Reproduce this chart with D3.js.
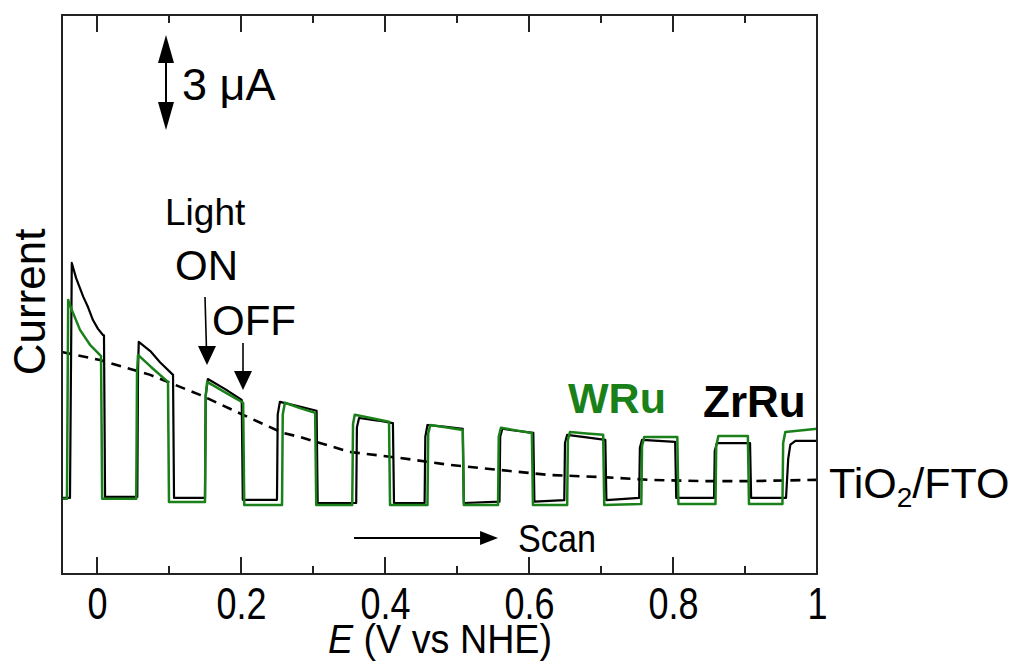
<!DOCTYPE html>
<html>
<head>
<meta charset="utf-8">
<script src="https://cdn.jsdelivr.net/npm/d3@7"></script>
<style>
  body { margin: 0; background: #fff; }
  svg text { font-family: "Liberation Sans", Arial, sans-serif; }
</style>
</head>
<body>
<svg id="chart" width="1027" height="661"></svg>
<script>
/*** DATA (E in V vs NHE, current in uA, offset arbitrary) ***/

var zr_ru = [
  [-0.049, -0.03], [-0.0375, -0.03], [-0.035, 7.38], [-0.029, 6.9], [-0.019, 6.31], [-0.0125, 5.99],
  [-0.0056, 5.58], [0.0014, 5.3], [0.0083, 5.11], [0.0097, 5.1], [0.0112, 0.0],
  [0.056, 0.0], [0.057, 4.0], [0.058, 4.89], [0.074, 4.6], [0.0875, 4.25], [0.1056, 3.85], [0.107, -0.03],
  [0.150, -0.03], [0.151, 3.2], [0.154, 3.72], [0.178, 3.4], [0.201, 3.06], [0.2025, -0.09],
  [0.250, -0.09], [0.251, 2.6], [0.254, 3.0], [0.280, 2.86], [0.305, 2.72], [0.3065, -0.19],
  [0.360, -0.19], [0.361, 2.2], [0.364, 2.49], [0.390, 2.41], [0.411, 2.33], [0.4125, -0.19],
  [0.455, -0.19], [0.456, 1.9], [0.459, 2.27], [0.485, 2.21], [0.508, 2.15], [0.5095, -0.19],
  [0.559, -0.15], [0.560, 1.9], [0.563, 2.15], [0.585, 2.08], [0.606, 2.02], [0.6075, -0.15],
  [0.649, -0.10], [0.650, 1.7], [0.653, 1.96], [0.680, 1.88], [0.706, 1.80], [0.7075, -0.10],
  [0.753, -0.03], [0.754, 1.55], [0.757, 1.80], [0.780, 1.77], [0.803, 1.74], [0.8045, -0.03],
  [0.857, -0.03], [0.858, 1.45], [0.861, 1.70], [0.885, 1.70], [0.907, 1.70], [0.9085, -0.03],
  [0.957, -0.03], [0.960, 1.2], [0.963, 1.65], [0.970, 1.77], [1.0, 1.77]
];

var w_ru = [
  [-0.049, -0.06], [-0.0417, -0.06], [-0.040, 6.21], [-0.035, 5.9], [-0.0236, 5.27], [-0.0097, 4.8],
  [0.004, 4.48], [0.0056, 4.45], [0.0072, -0.06],
  [0.0545, -0.06], [0.0556, 3.9], [0.057, 4.48], [0.075, 4.1], [0.0986, 3.63], [0.100, -0.16],
  [0.150, -0.16], [0.151, 3.2], [0.153, 3.63], [0.178, 3.3], [0.203, 2.97], [0.2045, -0.25],
  [0.257, -0.25], [0.258, 2.6], [0.261, 2.97], [0.282, 2.8], [0.303, 2.65], [0.3045, -0.25],
  [0.3545, -0.25], [0.3556, 2.3], [0.358, 2.59], [0.382, 2.48], [0.4056, 2.37], [0.407, -0.25],
  [0.459, -0.25], [0.460, 2.0], [0.463, 2.27], [0.486, 2.19], [0.508, 2.11], [0.5095, -0.25],
  [0.557, -0.25], [0.558, 1.9], [0.561, 2.18], [0.582, 2.10], [0.604, 2.02], [0.6055, -0.25],
  [0.653, -0.25], [0.654, 1.8], [0.657, 2.05], [0.680, 2.00], [0.703, 1.96], [0.7045, -0.25],
  [0.756, -0.22], [0.757, 1.6], [0.760, 1.89], [0.783, 1.89], [0.806, 1.89], [0.8075, -0.22],
  [0.859, -0.22], [0.860, 1.6], [0.863, 1.92], [0.884, 1.92], [0.904, 1.92], [0.9055, -0.22],
  [0.952, -0.22], [0.953, 1.7], [0.956, 2.05], [0.980, 2.10], [1.0, 2.15]
];

var tio2_fto = [
  [-0.049, 4.57], [0.004, 4.32], [0.074, 3.85], [0.143, 3.22], [0.2125, 2.49], [0.258, 2.02],
  [0.282, 1.89], [0.351, 1.42], [0.421, 1.23], [0.49, 1.01], [0.56, 0.85], [0.629, 0.69],
  [0.699, 0.63], [0.768, 0.54], [0.838, 0.50], [0.907, 0.50], [1.0, 0.54]
];

var major_ticks = [0, 0.2, 0.4, 0.6, 0.8, 1];
var minor_ticks = [0.1, 0.3, 0.5, 0.7, 0.9];
var tick_labels = ["0", "0.2", "0.4", "0.6", "0.8", "1"];

/*** SETUP ***/

var svg = d3.select('#chart');
var margin = {top: 15, right: 210, bottom: 87, left: 62};
var width = 1027 - margin.left - margin.right,
    height = 661 - margin.top - margin.bottom;

var green = '#1a801a';

var x = d3.scaleLinear().domain([-0.0486, 1]).range([margin.left, margin.left + width]);
var y = d3.scaleLinear().domain([-2.43, 15.2]).range([margin.top + height, margin.top]);

var line = d3.line().x(function(d) { return x(d[0]); }).y(function(d) { return y(d[1]); });

// arrowhead helper: tip at (tx, ty), pointing direction (dx, dy)
function arrow_head(tx, ty, dx, dy, len, half) {
  var bx = tx - dx * len, by = ty - dy * len;
  var px = -dy * half, py = dx * half;
  svg.append('path')
    .attr('d', `M${tx},${ty}L${bx + px},${by + py}L${bx - px},${by - py}Z`)
    .attr('fill', '#000');
}

/*** CURVES ***/

svg.append('path').datum(tio2_fto)
  .attr('d', line).attr('fill', 'none').attr('stroke', '#000')
  .attr('stroke-width', 2.6).attr('stroke-dasharray', '10,7');

svg.append('path').datum(zr_ru)
  .attr('d', line).attr('fill', 'none').attr('stroke', '#000')
  .attr('stroke-width', 2.2).attr('stroke-linejoin', 'round');

svg.append('path').datum(w_ru)
  .attr('d', line).attr('fill', 'none').attr('stroke', green)
  .attr('stroke-width', 2.5).attr('stroke-linejoin', 'round');

/*** FRAME & AXES ***/

svg.append('rect')
  .attr('x', margin.left).attr('y', margin.top)
  .attr('width', width).attr('height', height)
  .attr('fill', 'none').attr('stroke', '#222').attr('stroke-width', 2);

var axis_b = d3.axisBottom(x).tickValues(major_ticks).tickSize(0).tickFormat(function(d, i) { return tick_labels[i]; });

major_ticks.forEach(function(t) {
  svg.append('line').attr('x1', x(t)).attr('x2', x(t))
    .attr('y1', margin.top + height).attr('y2', margin.top + height - 17)
    .attr('stroke', '#222').attr('stroke-width', 2);
  svg.append('line').attr('x1', x(t)).attr('x2', x(t))
    .attr('y1', margin.top).attr('y2', margin.top + 17)
    .attr('stroke', '#222').attr('stroke-width', 2);
});
minor_ticks.forEach(function(t) {
  svg.append('line').attr('x1', x(t)).attr('x2', x(t))
    .attr('y1', margin.top + height).attr('y2', margin.top + height - 8)
    .attr('stroke', '#222').attr('stroke-width', 2);
  svg.append('line').attr('x1', x(t)).attr('x2', x(t))
    .attr('y1', margin.top).attr('y2', margin.top + 8)
    .attr('stroke', '#222').attr('stroke-width', 2);
});

var gx = svg.append('g')
  .attr('transform', `translate(0, ${margin.top + height})`)
  .call(axis_b);
gx.select('.domain').remove();
// reference tick labels are horizontally condensed
gx.selectAll('text')
  .attr('dy', null).attr('y', null)
  .attr('transform', 'translate(0, 45) scale(0.8, 1)')
  .attr('font-family', '"Liberation Sans", Arial, sans-serif')
  .attr('font-size', 45).attr('fill', '#000');

// axis titles
var xl = svg.append('text')
  .attr('transform', 'translate(440, 653) scale(0.92, 1)')
  .attr('text-anchor', 'middle').attr('font-size', 41);
xl.append('tspan').attr('font-style', 'italic').text('E');
xl.append('tspan').text(' (V vs NHE)');

svg.append('text')
  .attr('transform', 'translate(45, 302) rotate(-90)')
  .attr('text-anchor', 'middle').attr('font-size', 44)
  .text('Current');

/*** ANNOTATIONS ***/

// scale bar: 3 uA
var sb_x = 166, sb_top = y(14.57), sb_bot = y(11.57);
svg.append('line').attr('x1', sb_x).attr('x2', sb_x)
  .attr('y1', sb_top + 10).attr('y2', sb_bot - 10)
  .attr('stroke', '#000').attr('stroke-width', 2);
arrow_head(sb_x, sb_top, 0, -1, 28, 8);
arrow_head(sb_x, sb_bot, 0, 1, 28, 8);
svg.append('text').attr('x', 182).attr('y', 100).attr('font-size', 45).text('3 \u03bcA');

svg.append('text').attr('x', 165).attr('y', 225).attr('font-size', 37).text('Light');
svg.append('text').attr('x', 175).attr('y', 280).attr('font-size', 42).text('ON');
svg.append('text').attr('x', 212).attr('y', 335).attr('font-size', 42).text('OFF');

// ON / OFF arrows
svg.append('line').attr('x1', 205).attr('x2', 206.5).attr('y1', 297).attr('y2', 350)
  .attr('stroke', '#000').attr('stroke-width', 1.6);
arrow_head(207, 365, 0, 1, 19, 9);
svg.append('line').attr('x1', 243).attr('x2', 243).attr('y1', 343).attr('y2', 376)
  .attr('stroke', '#000').attr('stroke-width', 1.6);
arrow_head(243, 390, 0, 1, 19, 9);

svg.append('text').attr('x', 568).attr('y', 413).attr('font-size', 43)
  .attr('font-weight', 'bold').attr('fill', green).text('WRu');
svg.append('text').attr('x', 703).attr('y', 417).attr('font-size', 44)
  .attr('font-weight', 'bold').attr('fill', '#000').text('ZrRu');

var tl = svg.append('text').attr('x', 829).attr('y', 498).attr('font-size', 43);
tl.append('tspan').text('TiO');
tl.append('tspan').attr('font-size', 28).attr('dy', 9).text('2');
tl.append('tspan').attr('dy', -9).text('/FTO');

// scan arrow
svg.append('line').attr('x1', x(0.357)).attr('x2', x(0.54)).attr('y1', 538).attr('y2', 538)
  .attr('stroke', '#000').attr('stroke-width', 1.8);
arrow_head(x(0.557), 538, 1, 0, 18, 7);
svg.append('text').attr('transform', 'translate(518, 552) scale(0.9, 1)')
  .attr('font-size', 38).text('Scan');
</script>
</body>
</html>
